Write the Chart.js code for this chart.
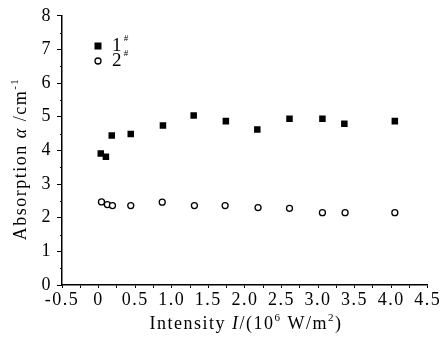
<!DOCTYPE html>
<html>
<head>
<meta charset="utf-8">
<script src="https://cdn.jsdelivr.net/npm/chart.js@4.4.0/dist/chart.umd.min.js"></script>
<style>
    html, body { margin: 0; padding: 0; background: #fff; }
    #wrap { width: 440px; height: 338px; }
</style>
</head>
<body>
<div id="wrap"><canvas id="c"></canvas></div>
<script>
// sample 1# (filled squares)
const x1 = [0.03, 0.10, 0.18, 0.44, 0.88, 1.30, 1.74, 2.17, 2.61, 3.06, 3.36, 4.05];
const y1 = [3.91, 3.81, 4.44, 4.49, 4.74, 5.04, 4.87, 4.62, 4.94, 4.94, 4.79, 4.87];
// sample 2# (open circles)
const x2 = [0.04, 0.12, 0.19, 0.44, 0.87, 1.31, 1.73, 2.18, 2.61, 3.06, 3.37, 4.05];
const y2 = [2.47, 2.39, 2.36, 2.36, 2.46, 2.36, 2.36, 2.30, 2.28, 2.15, 2.15, 2.15];

const seriesNames = ['1', '2'];
const xTickLabels = ['-0.5', '0', '0.5', '1.0', '1.5', '2.0', '2.5', '3.0', '3.5', '4.0', '4.5'];

const FONT = '"Liberation Serif", "DejaVu Serif", serif';

function pts(xs, ys) {
    return xs.map((x, i) => ({x: x, y: ys[i]}));
}

// axis titles + legend, drawn with mixed italic / superscript runs
function drawRuns(ctx, runs, x, y, align) {
    let total = 0;
    runs.forEach(r => {
        ctx.font = r.font;
        total += ctx.measureText(r.t).width;
    });
    let cx = align === 'center' ? x - total / 2 : x;
    runs.forEach(r => {
        ctx.font = r.font;
        ctx.fillText(r.t, cx, y + (r.dy || 0));
        cx += ctx.measureText(r.t).width;
    });
}

const decor = {
    id: 'decor',
    beforeDraw(chart) {
        // the original figure has loosely spaced glyphs
        chart.ctx.letterSpacing = '1.5px';
    },
    afterDraw(chart) {
        const ctx = chart.ctx;
        const xs = chart.scales.x, ys = chart.scales.y;
        ctx.save();
        ctx.fillStyle = '#000';
        ctx.strokeStyle = '#000';
        ctx.textBaseline = 'alphabetic';
        ctx.textAlign = 'left';

        // minor y ticks
        ctx.lineWidth = 1;
        for (let v = 0.5; v < 8; v += 1) {
            const py = Math.round(ys.getPixelForValue(v)) + 0.5;
            ctx.beginPath();
            ctx.moveTo(xs.left - 2, py);
            ctx.lineTo(xs.left, py);
            ctx.stroke();
        }

        const reg = `18px ${FONT}`;
        const ita = `italic 18px ${FONT}`;
        const sup = `11px ${FONT}`;

        // x title
        drawRuns(ctx, [
            {t: 'Intensity ', font: reg},
            {t: 'I', font: ita},
            {t: '/(10', font: reg},
            {t: '6', font: sup, dy: -8},
            {t: ' W/m', font: reg},
            {t: '2', font: sup, dy: -8},
            {t: ')', font: reg}
        ], 246, 329, 'center');

        // y title (rotated)
        ctx.save();
        ctx.translate(26, 159);
        ctx.rotate(-Math.PI / 2);
        drawRuns(ctx, [
            {t: 'Absorption ', font: reg},
            {t: 'α', font: ita},
            {t: ' /cm', font: reg},
            {t: '-1', font: sup, dy: -8}
        ], 0, 0, 'center');
        ctx.restore();

        // legend
        ctx.letterSpacing = '0px';
        const lx = 98;
        const rows = [{y: 46, filled: true}, {y: 61, filled: false}];
        rows.forEach((r, i) => {
            if (r.filled) {
                ctx.fillRect(lx - 3.5, r.y - 3.5, 7, 7);
            } else {
                ctx.lineWidth = 1.3;
                ctx.beginPath();
                ctx.arc(lx, r.y, 3, 0, Math.PI * 2);
                ctx.stroke();
            }
            drawRuns(ctx, [
                {t: seriesNames[i], font: `19px ${FONT}`},
                {t: ' #', font: `9px ${FONT}`, dy: -10}
            ], lx + 14, r.y + 5, 'left');
        });
        ctx.restore();
    }
};

new Chart(document.getElementById('c'), {
    type: 'scatter',
    data: {
        datasets: [
            {
                label: seriesNames[0] + '#',
                data: pts(x1, y1),
                pointStyle: 'rect',
                pointRadius: 4.6,
                backgroundColor: '#000',
                borderColor: '#000',
                borderWidth: 0
            },
            {
                label: seriesNames[1] + '#',
                data: pts(x2, y2),
                pointStyle: 'circle',
                pointRadius: 3,
                backgroundColor: '#fff',
                borderColor: '#000',
                borderWidth: 1.3
            }
        ]
    },
    options: {
        responsive: true,
        maintainAspectRatio: false,
        animation: false,
        layout: {padding: {left: 0, right: 11, top: 15, bottom: 0}},
        plugins: {
            legend: {display: false},
            tooltip: {enabled: false}
        },
        scales: {
            x: {
                type: 'linear',
                min: -0.5,
                max: 4.5,
                border: {display: true, color: '#000', width: 1.5},
                grid: {drawOnChartArea: false, drawTicks: true, tickLength: 3, color: '#000'},
                ticks: {
                    stepSize: 0.25,
                    autoSkip: false,
                    maxRotation: 0,
                    padding: 1,
                    color: '#000',
                    font: {family: FONT, size: 18},
                    callback: (v) => {
                        const k = Math.round((v + 0.5) * 2);
                        if (Math.abs((v + 0.5) * 2 - k) > 1e-6) return '';
                        return xTickLabels[k];
                    }
                },
                afterFit: (s) => { s.height = 53; }
            },
            y: {
                min: 0,
                max: 8,
                border: {display: true, color: '#000', width: 1.5},
                grid: {drawOnChartArea: false, drawTicks: true, tickLength: 5, color: '#000'},
                ticks: {
                    stepSize: 1,
                    padding: 5,
                    color: '#000',
                    font: {family: FONT, size: 18}
                },
                afterFit: (s) => { s.width = 62; }
            }
        }
    },
    plugins: [decor]
});
</script>
</body>
</html>
